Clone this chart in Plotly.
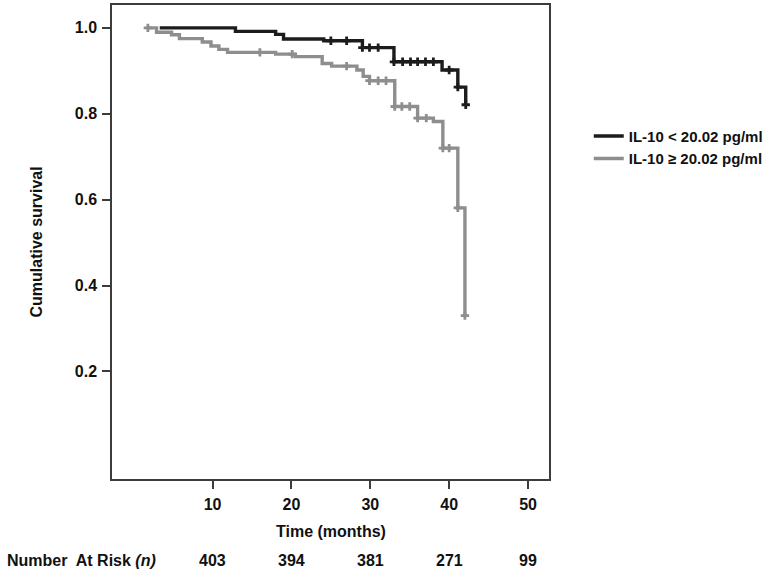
import numpy as np
import plotly.graph_objects as go

# ---- Data ----
# IL-10 < 20.02 pg/ml (black)
low_times = [3.3, 12.9, 18.0, 19.0, 24.1, 29.0, 33.0, 39.1, 41.1, 42.1]
low_surv = [1.000, 0.992, 0.985, 0.974, 0.970, 0.954, 0.921, 0.902, 0.862, 0.821]
low_censor = [25.0, 27.0, 29.0, 29.9, 31.0, 33.0, 34.1, 35.1, 36.0, 37.0, 38.0, 40.0, 41.1, 42.1]

# IL-10 >= 20.02 pg/ml (gray)
high_times = [1.8, 2.9, 4.8, 5.8, 8.7, 9.8, 10.8, 11.9, 18.0, 20.5, 23.9, 25.1,
              28.3, 29.1, 29.9, 33.1, 36.0, 38.0, 39.2, 41.1, 42.0]
high_surv = [1.000, 0.990, 0.984, 0.975, 0.967, 0.958, 0.950, 0.943, 0.939, 0.933, 0.917, 0.911,
             0.902, 0.887, 0.877, 0.817, 0.790, 0.782, 0.720, 0.581, 0.330]
high_censor = [1.8, 16.0, 20.1, 27.0, 29.9, 31.0, 32.0, 33.1, 34.0, 35.0, 36.0, 37.1, 39.2, 40.0, 41.1, 42.0]

x_ticks = [10, 20, 30, 40, 50]
at_risk = [403, 394, 381, 271, 99]
y_ticks = [0.2, 0.4, 0.6, 0.8, 1.0]
y_tick_labels = ["0.2", "0.4", "0.6", "0.8", "1.0"]

low_name = "IL-10 < 20.02 pg/ml"
high_name = "IL-10 \u2265 20.02 pg/ml"


def censor_y(times, surv, ct):
    t = np.asarray(times)
    s = np.asarray(surv)
    idx = np.searchsorted(t, np.asarray(ct), side="right") - 1
    idx = np.clip(idx, 0, len(s) - 1)
    return s[idx]


FONT = "Liberation Sans, Arial, sans-serif"
TXT = "#111111"
BLACK = "#1c1c1c"
GRAY = "#8e8e8e"
FRAME = "#3c3c3c"

fig = go.Figure()

for name, times, surv, cens, col, grp in [
    (high_name, high_times, high_surv, high_censor, GRAY, "high"),
    (low_name, low_times, low_surv, low_censor, BLACK, "low"),
]:
    fig.add_trace(go.Scatter(
        x=times, y=surv, mode="lines", name=name, legendgroup=grp,
        line=dict(color=col, width=3.4, shape="hv"),
        legendrank=2 if grp == "high" else 1,
    ))
    fig.add_trace(go.Scatter(
        x=cens, y=censor_y(times, surv, cens), mode="markers", legendgroup=grp,
        showlegend=False, hoverinfo="skip",
        marker=dict(symbol="cross", size=7, color=col, line=dict(width=0)),
    ))

axis_common = dict(
    showline=True, mirror=True, linecolor=FRAME, linewidth=1.5,
    ticks="outside", ticklen=8, tickwidth=1.5, tickcolor=FRAME,
    showgrid=False, zeroline=False,
    tickfont=dict(family=FONT, size=16, color=TXT, weight=700),
)

fig.update_xaxes(range=[-2.75, 52.66], tickvals=x_ticks, ticklabelstandoff=2, **axis_common)
fig.update_yaxes(range=[-0.0504, 1.0533], tickvals=y_ticks, ticktext=y_tick_labels,
                 ticklabelstandoff=2, **axis_common)

annotations = [
    dict(text="Time (months)", xref="paper", yref="paper", x=0.5, y=-0.111,
         xanchor="center", yanchor="middle", showarrow=False,
         font=dict(family=FONT, size=16, color=TXT, weight=700)),
    dict(text="Cumulative survival", xref="paper", yref="paper", x=-0.175, y=0.5,
         xanchor="center", yanchor="middle", textangle=-90, showarrow=False,
         font=dict(family=FONT, size=16, color=TXT, weight=700)),
    dict(text="Number  At Risk <i>(n)</i>", xref="paper", yref="paper", x=-0.245, y=-0.171,
         xanchor="left", yanchor="middle", showarrow=False,
         font=dict(family=FONT, size=16, color=TXT, weight=700)),
]
for xv, n in zip(x_ticks, at_risk):
    annotations.append(dict(text=str(n), xref="x", yref="paper", x=xv, y=-0.171,
                            xanchor="center", yanchor="middle", showarrow=False,
                            font=dict(family=FONT, size=16, color=TXT, weight=700)))

fig.update_layout(
    width=771, height=573,
    margin=dict(l=112, r=219, t=3, b=94),
    paper_bgcolor="white", plot_bgcolor="white",
    annotations=annotations,
    legend=dict(x=1.091, y=0.758, xanchor="left", yanchor="top",
                font=dict(family=FONT, size=15, color=TXT, weight=700),
                bgcolor="rgba(0,0,0,0)", borderwidth=0, tracegroupgap=0,
                itemwidth=30),
    showlegend=True,
)

fig.write_html("out.html", config={"displayModeBar": False})

# remove the default page margin so the figure sits at the window's top-left corner
with open("out.html", "r", encoding="utf-8") as f:
    html = f.read()
html = html.replace("<body>", '<body style="margin:0;padding:0;">', 1)
with open("out.html", "w", encoding="utf-8") as f:
    f.write(html)
